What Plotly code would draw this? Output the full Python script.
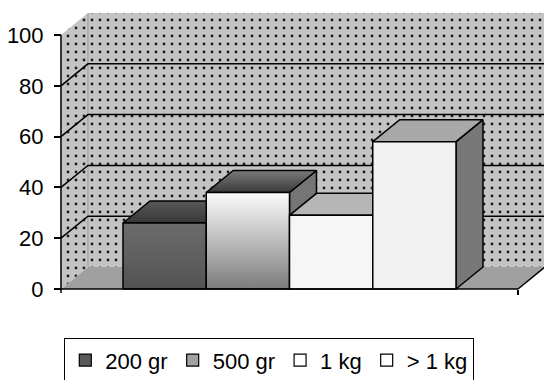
import plotly.graph_objects as go

# ---- data ----
categories = ["200 gr", "500 gr", "1 kg", "> 1 kg"]
values = [26, 38, 29, 58]
y_ticks = [0, 20, 40, 60, 80, 100]

# ---- styles ----
front_grad = [
    [[0, "#535353"], [1, "#6c6c6c"]],
    [[0, "#7c7c7c"], [1, "#fbfbfb"]],
    [[0, "#f6f6f6"], [1, "#f6f6f6"]],
    [[0, "#f2f2f2"], [1, "#f2f2f2"]],
]
top_grad = [
    [[0, "#383838"], [1, "#575757"]],
    [[0, "#3a3a3a"], [1, "#7a7a7a"]],
    [[0, "#b6b6b6"], [1, "#b6b6b6"]],
    [[0, "#a8a8a8"], [1, "#a8a8a8"]],
]
side_col = ["#4c4c4c", "#757575", "#9a9a9a", "#787878"]
legend_col = ["#5a5a5a", "#a2a2a2", "#ffffff", "#ffffff"]

# geometry in axis units
X0, X1 = -1.245, 4.245          # floor front left/right
DU, DV = 0.324, 8.66            # depth offset (x units, value units)
YMAX = 100
XR = [-1.9775, 4.557]
YR = [-35.83, 113.78]

fig = go.Figure()


def poly(xs, ys, **kw):
    fig.add_trace(go.Scatter(x=xs + [xs[0]], y=ys + [ys[0]], mode="lines",
                             fill="toself", showlegend=False, hoverinfo="skip", **kw))


def line(xs, ys, color="black", width=1.5):
    fig.add_trace(go.Scatter(x=xs, y=ys, mode="lines", showlegend=False, hoverinfo="skip",
                             line=dict(color=color, width=width)))


dots = dict(shape=".", bgcolor="#c4c4c4", fgcolor="#1e1e1e", size=8, solidity=0.1, fillmode="replace")

# floor
poly([X0, X1, X1 + DU, X0 + DU], [0, 0, DV, DV], fillcolor="#a0a0a0", line=dict(width=0))
# left wall
poly([X0, X0 + DU, X0 + DU, X0], [0, DV, YMAX + DV, YMAX],
     fillcolor="#c4c4c4", fillpattern=dots, line=dict(width=0))
# back wall
poly([X0 + DU, X1 + DU + 0.2, X1 + DU + 0.2, X0 + DU], [DV, DV, YMAX + DV, YMAX + DV],
     fillcolor="#c4c4c4", fillpattern=dots, line=dict(width=0))
# wall corner
line([X0 + DU, X0 + DU], [DV, YMAX + DV], color="#9a9a9a", width=1)

# gridlines
for t in y_ticks[1:-1]:
    line([X0, X0 + DU, X1 + DU + 0.2], [t, t + DV, t + DV])

# floor edges
line([X1, X1 + DU], [0, DV])

# bars
for i, (c, v) in enumerate(zip(categories, values)):
    L, R = i - 0.5, i + 0.5
    poly([R, R + DU, R + DU, R], [0, DV, v + DV, v],
         fillcolor=side_col[i], line=dict(color="black", width=1.5))
    poly([L, R, R + DU, L + DU], [v, v, v + DV, v + DV],
         fillgradient=dict(type="vertical", colorscale=top_grad[i], start=v, stop=v + DV),
         line=dict(color="black", width=1.5))
    poly([L, R, R, L], [0, 0, v, v],
         fillgradient=dict(type="vertical", colorscale=front_grad[i], start=0, stop=v),
         line=dict(color="black", width=1.5))

# front axes lines
line([X0, X0], [-1.6, YMAX])
line([X0, X1], [0, 0])

# legend entries
for c, col in zip(categories, legend_col):
    fig.add_trace(go.Bar(x=[None], y=[None], name=c,
                         marker=dict(color=col, line=dict(color="black", width=1.2))))

fig.update_layout(
    width=544, height=380,
    margin=dict(l=0, r=0, t=0, b=0, autoexpand=False),
    paper_bgcolor="white", plot_bgcolor="white",
    font=dict(family="Liberation Sans, Arial, sans-serif", color="black"),
    showlegend=True,
    legend=dict(orientation="h", x=64 / 544, y=1 - 338 / 380, xanchor="left", yanchor="top",
                bordercolor="black", borderwidth=1.3, bgcolor="white",
                font=dict(size=22), itemclick=False, itemdoubleclick=False,
                tracegroupgap=0, itemwidth=30),
    xaxis=dict(range=XR, showgrid=False, zeroline=False, showline=False,
               showticklabels=False, ticks="outside", tickvals=[X1], ticklen=5,
               tickwidth=1.5, tickcolor="black", anchor="free", position=91 / 380,
               fixedrange=True),
    yaxis=dict(range=YR, showgrid=False, zeroline=False, showline=False,
               tickvals=y_ticks, ticks="outside", ticklen=7, tickwidth=1.5,
               tickcolor="black", tickfont=dict(size=22), anchor="free",
               position=61 / 544, side="left", fixedrange=True, ticklabelstandoff=6),
)

fig.write_html("out.html", config={"displayModeBar": False},
               post_script="document.body.style.margin='0';document.body.style.overflow='hidden';")
